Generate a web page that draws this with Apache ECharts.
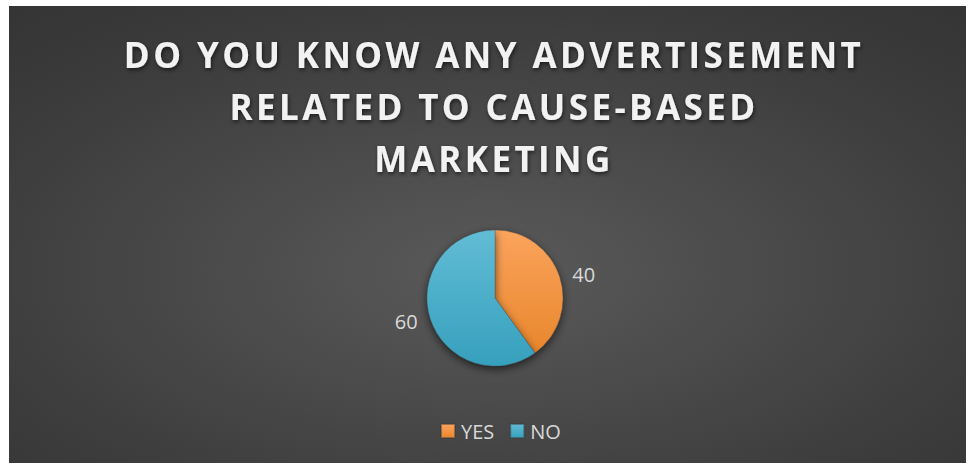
<!DOCTYPE html>
<html>
<head>
<meta charset="utf-8">
<script src="https://cdn.jsdelivr.net/npm/echarts@6/dist/echarts.min.js"></script>
<style>
  html, body { margin: 0; padding: 0; background: #ffffff; }
  #chart { position: absolute; left: 9px; top: 6px; width: 957px; height: 457px; }
  /* spaced-out capitals for the heading */
  #chart text[style*="35px"] { letter-spacing: 3.4px; }
</style>
</head>
<body>
<div id="chart"></div>
<script>
// Survey answers
const titleLines = ['DO YOU KNOW ANY ADVERTISEMENT', 'RELATED TO CAUSE-BASED', 'MARKETING'];
const categories = ['YES', 'NO'];
const values = [40, 60];

const sliceColors = [
  { top: '#fba45d', bottom: '#e8862c' },
  { top: '#62bcd5', bottom: '#36a0bd' }
];

function vGrad(c) {
  return new echarts.graphic.LinearGradient(0, 0, 0, 1, [
    { offset: 0, color: c.top },
    { offset: 1, color: c.bottom }
  ]);
}

const chart = echarts.init(document.getElementById('chart'), null, { renderer: 'svg' });

const option = {
  backgroundColor: {
    type: 'radial', x: 0.5, y: 0.58, r: 1.25,
    colorStops: [
      { offset: 0, color: '#5a5a5a' },
      { offset: 0.45, color: '#3c3c3c' },
      { offset: 1, color: '#222222' }
    ]
  },
  title: {
    text: titleLines.join('\n'),
    left: 480,
    textAlign: 'center',
    top: 17,
    textStyle: {
      fontFamily: 'Open Sans',
      fontWeight: 'bold',
      fontSize: 35,
      lineHeight: 52,
      color: '#f2f2f2',
      textShadowColor: 'rgba(0,0,0,0.6)',
      textShadowBlur: 4,
      textShadowOffsetX: 1,
      textShadowOffsetY: 2
    }
  },
  legend: {
    data: categories,
    bottom: 17,
    left: 426,
    itemWidth: 14,
    itemHeight: 14,
    itemGap: 15,
    icon: 'rect',
    textStyle: { color: '#d9d9d9', fontFamily: 'Open Sans', fontSize: 20, padding: [0, 0, 0, 1] }
  },
  series: [{
    type: 'pie',
    center: [486, 292],
    radius: 68,
    startAngle: 90,
    clockwise: true,
    animation: false,
    label: {
      show: true,
      position: 'outside',
      formatter: '{c}',
      color: '#d9d9d9',
      fontFamily: 'Open Sans',
      fontSize: 20
    },
    labelLine: { show: false, length: 8, length2: 0 },
    itemStyle: {
      borderColor: 'rgba(60,60,60,0.5)',
      borderWidth: 0.5,
      shadowBlur: 8,
      shadowOffsetY: 3,
      shadowColor: 'rgba(0,0,0,0.6)'
    },
    emphasis: { disabled: true },
    data: categories.map((name, i) => ({
      name: name,
      value: values[i],
      itemStyle: { color: vGrad(sliceColors[i]) }
    }))
  }]
};

chart.setOption(option);
</script>
</body>
</html>
